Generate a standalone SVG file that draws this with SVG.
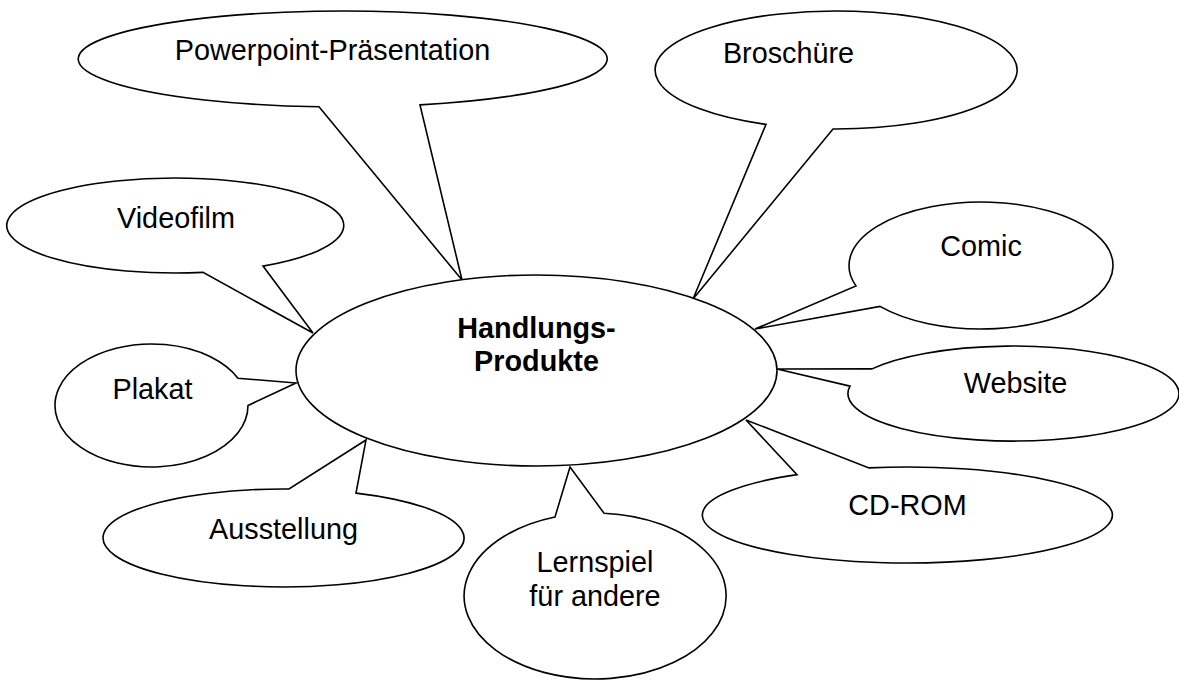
<svg xmlns="http://www.w3.org/2000/svg" width="1179" height="680" viewBox="0 0 1179 680">
<style>
.b{fill:#fff;stroke:#000;stroke-width:1.6;stroke-linejoin:miter}
.t{font-family:"Liberation Sans",Arial,sans-serif;font-size:28.8px;fill:#000;text-anchor:middle}
.h{font-weight:bold}
</style>
<rect width="1179" height="680" fill="#fff"/>
<g id="callouts">
<g id="powerpoint"><path class="b" d="M319,106.8 A264.5,48 0 1 1 420,104.9 L462,280 Z"/><text class="t" x="332.5" y="60">Powerpoint-Präsentation</text></g>
<g id="broschuere"><path class="b" d="M766,124.4 A181,59 0 1 1 833,129 L693,299 Z"/><text class="t" x="788.5" y="63">Broschüre</text></g>
<g id="videofilm"><path class="b" d="M203,272.4 A168.5,47.5 0 1 1 263,266.1 L313,333 Z"/><text class="t" x="176" y="228">Videofilm</text></g>
<g id="comic"><path class="b" d="M856,285.9 A132,63.5 0 1 1 880,306.4 L755,329 Z"/><text class="t" x="981" y="256">Comic</text></g>
<g id="plakat"><path class="b" d="M238,378.2 A96.5,61.5 0 1 0 248,405.5 L296,383 Z"/><text class="t" x="152.5" y="399">Plakat</text></g>
<g id="website"><path class="b" d="M872,368.9 A165.5,47.5 0 1 1 850,386.1 L777,369 Z"/><text class="t" x="1015.5" y="393">Website</text></g>
<g id="ausstellung"><path class="b" d="M289,489 A180.5,49 0 1 0 356,493.1 L366,440 Z"/><text class="t" x="283.5" y="539">Ausstellung</text></g>
<g id="cdrom"><path class="b" d="M797,474.6 A205,48 0 1 0 869,467.9 L746,420 Z"/><text class="t" x="907.5" y="515">CD-ROM</text></g>
<g id="lernspiel"><path class="b" d="M555,517 A131,83 0 1 0 604,513.2 L570,467 Z"/><text class="t" x="595" y="572">Lernspiel</text><text class="t" x="595" y="606">für andere</text></g>
</g>
<g id="center">
<ellipse class="b" cx="536.5" cy="370.5" rx="240.5" ry="95.5"/>
<text class="t h" x="536.5" y="338">Handlungs-</text>
<text class="t h" x="536.5" y="371">Produkte</text>
</g>
</svg>
